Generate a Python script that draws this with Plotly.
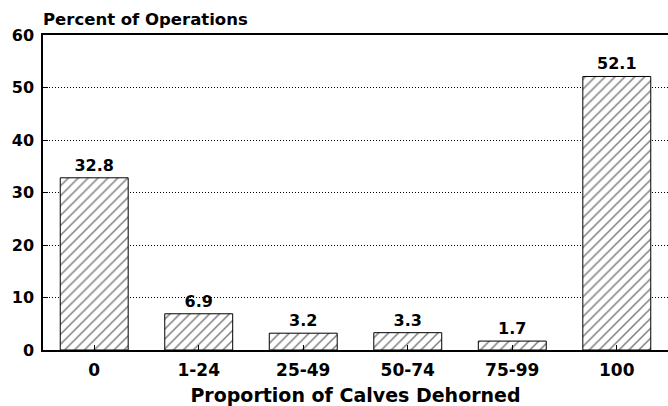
import plotly.graph_objects as go

categories = ["0", "1-24", "25-49", "50-74", "75-99", "100"]
values = [32.8, 6.9, 3.2, 3.3, 1.7, 52.1]
labels = ["32.8", "6.9", "3.2", "3.3", "1.7", "52.1"]
y_ticks = [0, 10, 20, 30, 40, 50, 60]

FONT = "DejaVu Sans"

fig = go.Figure()
fig.add_trace(go.Bar(
    x=categories, y=values, width=0.65,
    text=labels, textposition="outside", cliponaxis=False,
    textfont=dict(family=FONT, size=16, color="black", weight="bold"),
    marker=dict(color="white", line=dict(color="black", width=1),
                pattern=dict(shape="/", fgcolor="black", bgcolor="white", size=7, solidity=0.22)),
))

fig.update_layout(
    width=668, height=406,
    margin=dict(l=43, r=0, t=35, b=56, autoexpand=False),
    paper_bgcolor="white", plot_bgcolor="white",
    showlegend=False, bargap=0.35,
    font=dict(family=FONT, color="black"),
    annotations=[dict(text="<b>Percent of Operations</b>", x=-0.003, xref="paper", xanchor="left",
                      y=1, yref="paper", yanchor="bottom", yshift=4, showarrow=False,
                      font=dict(family=FONT, size=16.5, color="black"))],
)
fig.update_xaxes(
    range=[-0.49, 5.49], showline=True, linecolor="black", linewidth=1.5, mirror=True,
    ticks="inside", ticklen=5, tickcolor="black",
    tickfont=dict(family=FONT, size=17, color="black", weight="bold"),
    ticklabelstandoff=4,
    title=dict(text="<b>Proportion of Calves Dehorned</b>", font=dict(family=FONT, size=19, color="black"), standoff=14),
    showgrid=False, automargin=False,
)
fig.update_yaxes(
    range=[0, 60], tickvals=y_ticks, showline=True, linecolor="black", linewidth=1.5,
    ticks="inside", ticklen=5, tickcolor="black",
    tickfont=dict(family=FONT, size=16, color="black", weight="bold"),
    showgrid=True, gridcolor="black", griddash="1px,2px", gridwidth=1,
    zeroline=False, ticklabelstandoff=4, automargin=False,
)

fig.write_html("out.html", config={"displayModeBar": False},
               post_script="document.body.style.margin='0';")
